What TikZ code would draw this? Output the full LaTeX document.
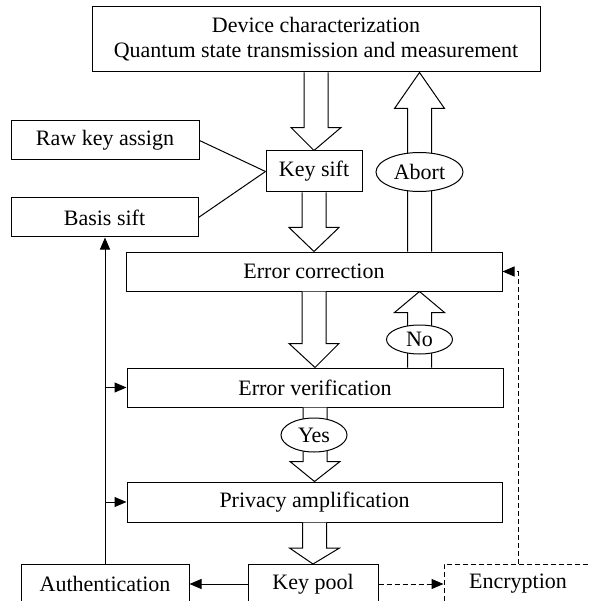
\documentclass[tikz,border=0pt]{standalone}
\usepackage{fontspec}
\setmainfont{Liberation Serif}
\usetikzlibrary{calc,arrows.meta,shapes.geometric}

% Hollow block arrow between two points on the same vertical:
% #1 start, #2 tip, #3 head length
\newcommand\blockarrow[3]{%
  \draw[blockarrow] let \p1=(#1), \p2=(#2), \p3=($(#2)!#3!(#1)$) in
    (\x1-12pt,\y1) -- (\x1-12pt,\y3) -- (\x1-25pt,\y3) -- (\x2,\y2)
    -- (\x1+25pt,\y3) -- (\x1+12pt,\y3) -- (\x1+12pt,\y1);}

\begin{document}
\begin{tikzpicture}[x=1pt,y=-1pt,line width=1pt,
  lbl/.style={font=\fontsize{22}{25}\selectfont},
  box/.style={lbl,draw,inner sep=0pt,minimum height=39pt,align=center},
  tag/.style={lbl,draw,ellipse,fill=white,inner sep=0pt},
  blockarrow/.style={draw,fill=white,line join=miter},
  link/.style={-{Triangle[length=12pt,width=10pt]}},
  optional/.style={dash pattern=on 5pt off 3pt}]
  \useasboundingbox (0,0) rectangle (590,601);
  \clip (0,0) rectangle (590,601);

  % process boxes
  \node[box,minimum width=448pt,minimum height=65pt] (top) at (316,39.5)
    {Device characterization\\Quantum state transmission and measurement};
  \node[box,minimum width=188pt] (raw)   at (105,140.5) {Raw key assign};
  \node[box,minimum width=96pt,minimum height=41pt] (sift) at (314,171.5) {Key sift};
  \node[box,minimum width=187pt] (basis) at (104.5,217.5) {Basis sift};
  \node[box,minimum width=376pt] (ec)    at (314,271.5) {Error correction};
  \node[box,minimum width=376pt] (ev)    at (315,387.5) {Error verification};
  \node[box,minimum width=375pt,minimum height=40pt] (pa) at (314.5,502) {Privacy amplification};
  \node[box,minimum width=130pt] (pool)  at (313,584) {Key pool};
  \node[box,minimum width=168pt,minimum height=40pt] (auth) at (105,584) {Authentication};
  \node[box,optional,minimum width=148pt,minimum height=40pt] (enc) at (518,584) {Encryption};

  % main flow
  \blockarrow{top.south}{sift.north}{23pt}
  \blockarrow{sift.south}{ec.north}{24pt}
  \blockarrow{ec.south}{ev.north}{24pt}
  \blockarrow{ev.south}{pa.north}{20pt}
  \blockarrow{pa.south}{pool.north}{16pt}

  % feedback paths
  \coordinate (abortx) at (419.5,172);
  \blockarrow{ec.north -| abortx}{top.south -| abortx}{36pt}
  \blockarrow{ev.north -| abortx}{ec.south -| abortx}{21pt}

  \node[tag,minimum width=87pt,minimum height=39pt] (abort) at (abortx) {Abort};
  \node[tag,minimum width=66pt,minimum height=29pt] (no) at (419.5,339.5) {No};
  \node[tag,minimum width=66pt,minimum height=34pt] (yes) at (314,435) {Yes};

  % sifting inputs
  \draw (raw.east) -- (sift.west);
  \draw (basis.east) -- (sift.west);

  % authentication feeds the classical steps
  \draw[link] (auth.north) -- (auth.north |- basis.south);
  \draw[link] (auth.north |- ev.west) -- (ev.west);
  \draw[link] (auth.north |- pa.west) -- (pa.west);
  \draw[link] (pool.west) -- (auth.east);

  % key use
  \draw[link,optional] (pool.east) -- (enc.west);
  \draw[link,optional] (enc.north) -- (enc.north |- ec.east) -- (ec.east);
\end{tikzpicture}
\end{document}
